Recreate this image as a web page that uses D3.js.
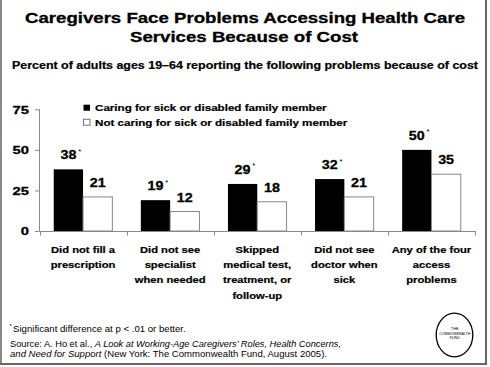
<!DOCTYPE html>
<html>
<head>
<meta charset="utf-8">
<script src="https://cdn.jsdelivr.net/npm/d3@7"></script>
<style>
  html, body { margin: 0; padding: 0; background: #fff; }
  svg { display: block; }
  text { font-family: "Liberation Sans", Arial, sans-serif; fill: #000; }
  text.heavy { stroke: #000; stroke-width: 0.3px; }
</style>
</head>
<body>
<script>
// ---- Data ----
const categories = [
  ["Did not fill a", "prescription"],
  ["Did not see", "specialist", "when needed"],
  ["Skipped", "medical test,", "treatment, or", "follow-up"],
  ["Did not see", "doctor when", "sick"],
  ["Any of the four", "access", "problems"]
];
const seriesNames = [
  "Caring for sick or disabled family member",
  "Not caring for sick or disabled family member"
];
const caring = [38, 19, 29, 32, 50];
const notCaring = [21, 12, 18, 21, 35];
const caringSignificant = [true, true, true, true, true];
const yTicks = [0, 25, 50, 75];
const titleLines = ["Caregivers Face Problems Accessing Health Care", "Services Because of Cost"];
const subtitle = "Percent of adults ages 19\u201364 reporting the following problems because of cost";

// ---- Setup ----
const W = 490, H = 367;
const svg = d3.select("body").append("svg").attr("width", W).attr("height", H);
const SX = 1.29;
function stretch(sel, sx) {
  sel.each(function () {
    const w = this.getComputedTextLength();
    d3.select(this).attr("textLength", w * sx).attr("lengthAdjust", "spacingAndGlyphs");
  });
}

// Frame
svg.append("line").attr("x1", 1).attr("x2", 1).attr("y1", 0).attr("y2", 365)
  .attr("stroke", "#888").attr("stroke-width", 2);
svg.append("line").attr("x1", 486).attr("x2", 486).attr("y1", 0).attr("y2", 365)
  .attr("stroke", "#666").attr("stroke-width", 2);
svg.append("line").attr("x1", 0).attr("x2", 487).attr("y1", 364).attr("y2", 364)
  .attr("stroke", "#666").attr("stroke-width", 2);

// Titles
const tl = [{ y: 23, len: 440, cx: 245 }, { y: 42, len: 228, cx: 244 }];
titleLines.forEach((t, i) => {
  svg.append("text").attr("class", "heavy").attr("x", tl[i].cx).attr("y", tl[i].y)
    .attr("text-anchor", "middle").attr("font-size", 14.5).attr("font-weight", "bold")
    .attr("textLength", tl[i].len).attr("lengthAdjust", "spacingAndGlyphs").text(t);
});
svg.append("text").attr("class", "heavy").attr("x", 245).attr("y", 69)
  .attr("text-anchor", "middle").attr("font-size", 10).attr("font-weight", "bold")
  .style("stroke-width", "0.2px")
  .attr("textLength", 466).attr("lengthAdjust", "spacingAndGlyphs").text(subtitle);

// Scales
const x = d3.scaleBand().domain(d3.range(categories.length)).range([39.5, 475]).padding(0);
const xi = d3.scaleBand().domain([0, 1]).range([0, x.bandwidth()]).paddingInner(0).paddingOuter(0.486);
const y = d3.scaleLinear().domain([0, 75]).range([231, 109.3]);

// Y axis
const yAxis = svg.append("g");
yAxis.append("line").attr("x1", 39.5).attr("x2", 39.5).attr("y1", y(75)).attr("y2", y(0))
  .attr("stroke", "#888");
yTicks.forEach(t => {
  yAxis.append("line").attr("x1", 35).attr("x2", 39.5).attr("y1", y(t) + 0.5).attr("y2", y(t) + 0.5)
    .attr("stroke", "#888");
  const tx = yAxis.append("text").attr("class", "heavy").attr("x", 29).attr("y", y(t) + 4.3)
    .attr("text-anchor", "end").attr("font-size", 11.8).attr("font-weight", "bold").text(t);
  stretch(tx, 1.25);
});

// X axis
svg.append("line").attr("x1", 39.5).attr("x2", 475).attr("y1", y(0) + 0.5).attr("y2", y(0) + 0.5)
  .attr("stroke", "#888");
d3.range(categories.length + 1).forEach(i => {
  const xx = i < categories.length ? x(i) : x(categories.length - 1) + x.bandwidth();
  svg.append("line").attr("x1", Math.round(xx) + 0.5).attr("x2", Math.round(xx) + 0.5)
    .attr("y1", y(0)).attr("y2", y(0) + 4.5).attr("stroke", "#888");
});

// Bars
const series = [caring, notCaring];
series.forEach((vals, s) => {
  svg.append("g").selectAll("rect").data(vals).join("rect")
    .attr("x", (d, i) => x(i) + xi(s))
    .attr("y", d => y(d))
    .attr("width", xi.bandwidth())
    .attr("height", d => y(0) - y(d))
    .attr("fill", s === 0 ? "#000" : "#fff")
    .attr("stroke", s === 0 ? "#000" : "#888")
    .attr("stroke-width", s === 0 ? 0 : 1);
});

// Value labels
series.forEach((vals, s) => {
  vals.forEach((v, i) => {
    const cx = x(i) + xi(s) + xi.bandwidth() / 2;
    const t = svg.append("text").attr("class", "heavy").attr("x", cx).attr("y", y(v) - 10)
      .attr("text-anchor", "middle").attr("font-size", 13).attr("font-weight", "bold").text(v);
    stretch(t, 1.1);
    if (s === 0 && caringSignificant[i]) {
      const w = t.node().getComputedTextLength() * 1.1;
      svg.append("text").attr("x", cx + w / 2 + 1).attr("y", y(v) - 15.5)
        .attr("font-size", 7.5).attr("fill", "#333").text("*");
    }
  });
});

// Category labels
categories.forEach((lines, i) => {
  lines.forEach((ln, j) => {
    const t = svg.append("text").attr("class", "heavy").attr("x", x(i) + x.bandwidth() / 2)
      .attr("y", 252.7 + j * 15.35).style("stroke-width", "0.2px")
      .attr("text-anchor", "middle").attr("font-size", 8.9).attr("font-weight", "bold").text(ln);
    stretch(t, 1.26);
  });
});

// Legend
const legY = [111, 125.5];
seriesNames.forEach((n, s) => {
  svg.append("rect").attr("x", 83.5).attr("y", legY[s] - 6.3).attr("width", 6.5).attr("height", 6)
    .attr("fill", s === 0 ? "#000" : "#fff").attr("stroke", s === 0 ? "#000" : "#555")
    .attr("stroke-width", s === 0 ? 0 : 0.8);
  const t = svg.append("text").attr("class", "heavy").attr("x", 95).attr("y", legY[s])
    .style("stroke-width", "0.2px")
    .attr("font-size", 9).attr("font-weight", "bold").text(n);
  stretch(t, SX);
});

// Footnotes
svg.append("text").attr("x", 9.5).attr("y", 328).attr("font-size", 6).text("*");
svg.append("text").attr("x", 13).attr("y", 332).attr("font-size", 8.6)
  .attr("textLength", 172.7).attr("lengthAdjust", "spacingAndGlyphs")
  .text("Significant difference at p < .01 or better.");
const src1 = svg.append("text").attr("x", 10).attr("y", 346.5).attr("font-size", 8.6)
  .attr("textLength", 331).attr("lengthAdjust", "spacingAndGlyphs");
src1.append("tspan").text("Source: A. Ho et al., ");
src1.append("tspan").attr("font-style", "italic").text("A Look at Working-Age Caregivers\u2019 Roles, Health Concerns,");
const src2 = svg.append("text").attr("x", 10).attr("y", 356.8).attr("font-size", 8.6)
  .attr("textLength", 317).attr("lengthAdjust", "spacingAndGlyphs");
src2.append("tspan").attr("font-style", "italic").text("and Need for Support");
src2.append("tspan").text(" (New York: The Commonwealth Fund, August 2005).");

// Logo
svg.append("ellipse").attr("cx", 454.5).attr("cy", 335).attr("rx", 18.3).attr("ry", 21.8)
  .attr("fill", "#fff").attr("stroke", "#000").attr("stroke-width", 1.3);
[["THE", 329.8, 8], ["COMMONWEALTH", 334.6, 31], ["FUND", 339.4, 10]].forEach(([t, yy, len]) => {
  svg.append("text").attr("x", 454.8).attr("y", yy).attr("text-anchor", "middle")
    .attr("font-size", 4.4).attr("textLength", len).attr("lengthAdjust", "spacingAndGlyphs").text(t);
});
</script>
</body>
</html>
